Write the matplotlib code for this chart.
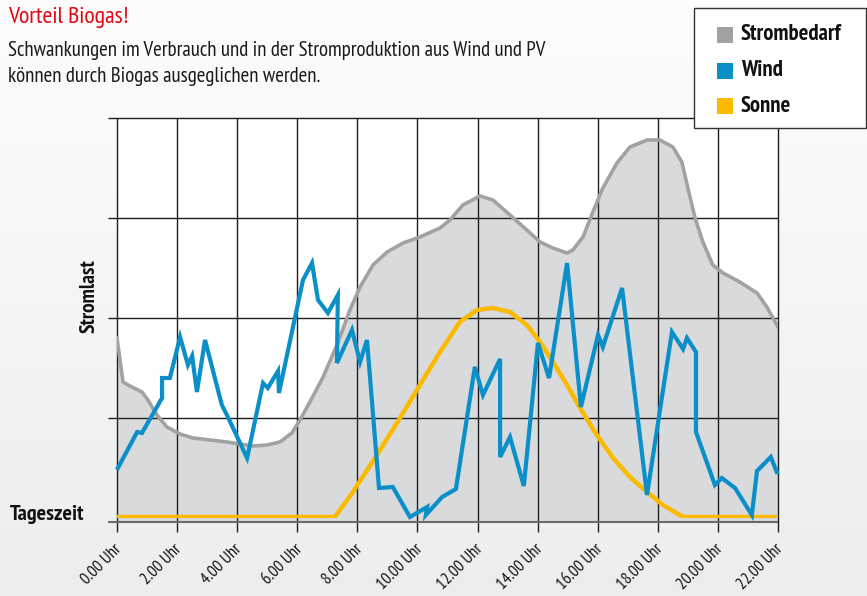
import matplotlib
matplotlib.use("Agg")
import matplotlib.pyplot as plt
import matplotlib.transforms as mtransforms
import numpy as np
from matplotlib import font_manager
from matplotlib.patches import Rectangle

names = set(f.name for f in font_manager.fontManager.ttflist)
CANDIDATES = ['PT Sans Narrow', 'Roboto Condensed', 'Fira Sans Condensed', 'Open Sans Condensed',
              'Archivo Narrow', 'Asap Condensed', 'Encode Sans Condensed', 'Barlow Semi Condensed',
              'Liberation Sans Narrow']
NARROW = next((c for c in CANDIDATES if c in names), 'DejaVu Sans')
FAM = [NARROW, 'DejaVu Sans']

# ---------------- data ----------------
tick_hours = [0, 2, 4, 6, 8, 10, 12, 14, 16, 18, 20, 22]
tick_labels = ["0.00 Uhr", "2.00 Uhr", "4.00 Uhr", "6.00 Uhr", "8.00 Uhr", "10.00 Uhr",
               "12.00 Uhr", "14.00 Uhr", "16.00 Uhr", "18.00 Uhr", "20.00 Uhr", "22.00 Uhr"]

bedarf_h = [0.0, 0.20, 0.43, 0.83, 1.03, 1.33, 1.66, 2.10, 2.53, 3.09, 3.66, 4.09, 4.53, 4.99,
            5.42, 5.82, 6.09, 6.42, 6.86, 7.35, 7.75, 8.09, 8.52, 8.99, 9.52, 10.08, 10.75,
            11.08, 11.51, 12.08, 12.51, 13.08, 13.64, 14.08, 14.51, 14.98, 15.17, 15.51, 15.84,
            16.17, 16.64, 17.07, 17.64, 18.07, 18.50, 18.80, 19.00, 19.24, 19.50, 19.83, 20.17,
            20.73, 21.30, 21.63, 22.0]
bedarf_v = [1.80, 1.36, 1.32, 1.26, 1.18, 1.03, 0.91, 0.84, 0.80, 0.78, 0.76, 0.74, 0.72, 0.73,
            0.76, 0.85, 0.98, 1.16, 1.41, 1.75, 2.08, 2.31, 2.53, 2.66, 2.75, 2.81, 2.90,
            2.98, 3.13, 3.22, 3.18, 3.03, 2.88, 2.76, 2.70, 2.65, 2.68, 2.81, 3.06,
            3.30, 3.55, 3.71, 3.78, 3.78, 3.71, 3.56, 3.30, 3.00, 2.76, 2.53, 2.45,
            2.36, 2.25, 2.11, 1.91]

wind_h = [0.03, 0.67, 0.83, 1.50, 1.50, 1.76, 2.10, 2.36, 2.50, 2.66, 2.93, 3.49, 3.69, 4.33,
          4.86, 5.02, 5.36, 5.39, 6.19, 6.49, 6.69, 7.02, 7.35, 7.32, 7.82, 8.09, 8.32, 8.72,
          9.18, 9.75, 10.32, 10.28, 10.82, 11.28, 11.91, 12.18, 12.75, 12.75, 13.08, 13.54,
          14.01, 14.38, 14.98, 15.44, 16.01, 16.17, 16.81, 17.64, 18.47, 18.84, 18.97, 19.27,
          19.27, 19.90, 20.13, 20.57, 21.13, 21.30, 21.76, 21.96]
wind_v = [0.50, 0.86, 0.85, 1.20, 1.40, 1.40, 1.81, 1.53, 1.62, 1.26, 1.78, 1.13, 1.01, 0.60,
          1.35, 1.30, 1.47, 1.25, 2.38, 2.55, 2.18, 2.05, 2.23, 1.55, 1.88, 1.56, 1.78, 0.30,
          0.31, 0.01, 0.11, 0.03, 0.21, 0.29, 1.51, 1.23, 1.59, 0.61, 0.81, 0.32,
          1.75, 1.40, 2.55, 1.11, 1.83, 1.71, 2.30, 0.23, 1.86, 1.69, 1.80, 1.66,
          0.86, 0.33, 0.40, 0.30, 0.03, 0.47, 0.61, 0.46]

sonne_h = [0.0, 7.25, 7.85, 8.65, 9.42, 10.08, 10.75, 11.41, 11.98, 12.51, 13.08, 13.64, 14.08,
           14.51, 14.98, 15.41, 15.97, 16.51, 17.07, 17.64, 18.17, 18.84, 22.0]
sonne_v = [0.01, 0.01, 0.26, 0.63, 1.00, 1.33, 1.66, 1.96, 2.08, 2.10, 2.06, 1.93, 1.76,
           1.56, 1.33, 1.10, 0.83, 0.60, 0.41, 0.26, 0.13, 0.01, 0.01]

legend_labels = ["Strombedarf", "Wind", "Sonne"]
GREY_LINE = '#a2a2a2'
GREY_FILL = '#d9dadc'
BLUE = '#0a8fc8'
YELLOW = '#fbb900'
RED = '#e30613'
legend_colors = [GREY_LINE, BLUE, YELLOW]

# ---------------- figure ----------------
W, H = 867, 596
fig = plt.figure(figsize=(W / 100, H / 100), dpi=100)
renderer = fig.canvas.get_renderer()

def fx(x):
    return x / W

def fy(y):
    return 1 - y / H

def fit_width(t, target):
    bb = t.get_window_extent(renderer)
    if bb.width > 0:
        t.set_fontsize(t.get_fontsize() * target / bb.width)

def fit_height(t, target):
    bb = t.get_window_extent(renderer)
    if bb.height > 0:
        t.set_fontsize(t.get_fontsize() * target / bb.height)

# background gradient
bg = fig.add_axes([0, 0, 1, 1], zorder=-10)
grad = np.linspace(0, 1, 256).reshape(-1, 1)
c_top = np.array([0.99, 0.99, 0.99])
c_bot = np.array([0.925, 0.935, 0.93])
img = c_top + (c_bot - c_top) * grad[..., None]
bg.imshow(img, aspect='auto', extent=[0, 1, 0, 1], origin='upper')
bg.set_axis_off()

L, R, T, B = 117, 778, 118, 518
ax = fig.add_axes([fx(L), fy(B), fx(R) - fx(L), fy(T) - fy(B)])
ax.set_xlim(0, 22)
ax.set_ylim(0, 4)
ax.set_facecolor('white')
for s in ax.spines.values():
    s.set_visible(False)

BASE = -0.035
ax.fill_between(bedarf_h, bedarf_v, BASE, color=GREY_FILL, lw=0, zorder=1, clip_on=False)

for h in tick_hours:
    ax.plot([h, h], [-0.14, 4], color='#1e1e1e', lw=1.0, zorder=1.5, clip_on=False,
            solid_capstyle='butt')
for v in [1, 2, 3, 4]:
    ax.plot([-0.3, 22], [v, v], color='#1e1e1e', lw=1.0, zorder=1.5,
            clip_on=False, solid_capstyle='butt')
ax.plot([-0.3, 22], [BASE, BASE], color='#6a6a6a', lw=1.5, zorder=1.6,
        clip_on=False, solid_capstyle='butt')

ax.plot(bedarf_h, bedarf_v, color=GREY_LINE, lw=2.6, zorder=3, solid_joinstyle='round')
ax.plot(sonne_h, sonne_v, color=YELLOW, lw=3.2, zorder=4, solid_joinstyle='round')
ax.plot(wind_h, wind_v, color=BLUE, lw=3.0, zorder=5, solid_joinstyle='miter', clip_on=False)

# tick label size fitted to reference extent of rotated "0.00 Uhr"
probe = fig.text(0, 0, "0.00 Uhr", family=FAM, fontsize=10, rotation=45)
fit_width(probe, 46)
tick_fs = probe.get_fontsize()
probe.remove()

ax.set_xticks(tick_hours)
ax.set_xticklabels(tick_labels, rotation=45, ha='right', va='top', rotation_mode='anchor',
                   family=FAM, fontsize=tick_fs, color='#111111')
ax.tick_params(axis='x', length=0, pad=17)
off = mtransforms.ScaledTranslation(-3 / 100, 0, fig.dpi_scale_trans)
for lab in ax.get_xticklabels():
    lab.set_transform(lab.get_transform() + off)
ax.set_yticks([])

sl = fig.text(fx(99), fy(296), "Stromlast", family=FAM, fontsize=12, fontweight='bold',
              rotation=90, ha='right', va='center', color='#111111')
fit_height(sl, 74)

t = fig.text(fx(10), fy(514), "Tageszeit", family=FAM, fontsize=12, fontweight='bold',
             ha='left', va='center', color='#111111')
fit_width(t, 74)

t = fig.text(fx(8), fy(17), "Vorteil Biogas!", family=FAM, fontsize=13, color=RED,
             ha='left', va='center')
fit_width(t, 120)
t1 = fig.text(fx(8), fy(50), "Schwankungen im Verbrauch und in der Stromproduktion aus Wind und PV",
              family=FAM, fontsize=12.5, color='#1a1a1a', ha='left', va='center')
fit_width(t1, 533)
fig.text(fx(8), fy(76), "können durch Biogas ausgeglichen werden.",
         family=FAM, fontsize=t1.get_fontsize(), color='#1a1a1a', ha='left', va='center')

# legend box
fig.patches.append(Rectangle((fx(694), fy(128)), fx(866) - fx(694), fy(8) - fy(128),
                             transform=fig.transFigure, facecolor='white', edgecolor='#333333',
                             lw=1.0, zorder=20))
leg_fs = None
for i, (lab, col) in enumerate(zip(legend_labels, legend_colors)):
    yc = 35 + i * 35.5
    fig.patches.append(Rectangle((fx(717), fy(yc + 8)), fx(16), 16 / H,
                                 transform=fig.transFigure, facecolor=col, edgecolor='none',
                                 zorder=21))
    lt = fig.text(fx(741), fy(yc), lab, family=FAM, fontsize=12, fontweight='bold',
                  ha='left', va='center', zorder=22, color='#111111')
    if leg_fs is None:
        fit_width(lt, 100)
        leg_fs = lt.get_fontsize()
    else:
        lt.set_fontsize(leg_fs)

fig.savefig("out.png", dpi=100)
